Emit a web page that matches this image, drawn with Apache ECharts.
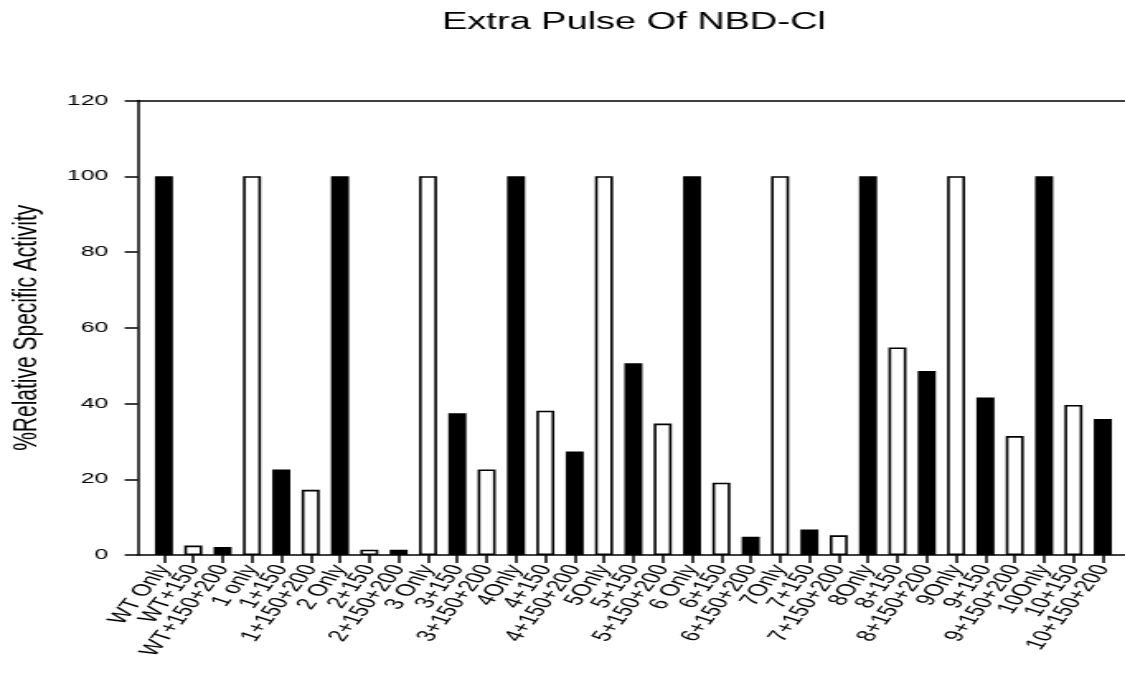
<!DOCTYPE html>
<html>
<head>
<meta charset="utf-8">
<script src="https://cdn.jsdelivr.net/npm/echarts@6/dist/echarts.min.js"></script>
<style>
  html, body { margin: 0; padding: 0; background: #fff; overflow: hidden; }
  /* the chart is laid out narrow and widened horizontally, giving the wide lettering */
  #main { width: 682px; height: 673px; transform: scaleX(1.6496); transform-origin: 0 0; }
</style>
</head>
<body>
<div id="main"></div>
<script>
// Treatment groups along the x axis
const categories = [
  'WT Only', 'WT+150', 'WT+150+200',
  '1 only', '1+150', '1+150+200',
  '2 Only', '2+150', '2+150+200',
  '3 Only', '3+150', '3+150+200',
  '4Only', '4+150', '4+150+200',
  '5Only', '5+150', '5+150+200',
  '6 Only', '6+150', '6+150+200',
  '7Only', '7+150', '7+150+200',
  '8Only', '8+150', '8+150+200',
  '9Only', '9+150', '9+150+200',
  '10Only', '10+150', '10+150+200'
];

// % relative specific activity for each group
const activity = [
  100, 2.5, 2.1,
  100, 22.6, 17.2,
  100, 1.4, 1.4,
  100, 37.4, 22.6,
  100, 38.1, 27.3,
  100, 50.6, 34.7,
  100, 19.1, 4.8,
  100, 6.7, 5.2,
  100, 54.8, 48.6,
  100, 41.6, 31.4,
  100, 39.6, 35.9
];

// y axis range and step
const yMin = 0, yMax = 120, yStep = 20;

const font = "'Liberation Sans', Arial, sans-serif";
const chart = echarts.init(document.getElementById('main'));

chart.setOption({
  animation: false,
  backgroundColor: '#fff',
  title: {
    text: 'Extra Pulse Of NBD-Cl',
    left: 263,
    top: 6,
    textStyle: { fontFamily: font, fontSize: 23, fontWeight: 'normal', color: '#000' }
  },
  grid: [
    { left: 83.6, right: 0, top: 100.5, bottom: 118, outerBoundsMode: 'none', containLabel: false },
    { left: 90.5, right: 4.6, top: 100.5, bottom: 118, outerBoundsMode: 'none', containLabel: false }
  ],
  xAxis: [
    { // bottom frame line
      gridIndex: 0, type: 'value', min: 0, max: 1, position: 'bottom',
      axisLine: { show: true, onZero: false, lineStyle: { color: '#000', width: 1.5 } },
      axisTick: { show: false }, axisLabel: { show: false }, splitLine: { show: false }
    },
    { // top frame line
      gridIndex: 0, type: 'value', min: 0, max: 1, position: 'top',
      axisLine: { show: true, onZero: false, lineStyle: { color: '#000', width: 1.5 } },
      axisTick: { show: false }, axisLabel: { show: false }, splitLine: { show: false }
    },
    { // categories
      gridIndex: 1, type: 'category', data: categories, position: 'bottom',
      axisLine: { show: false, onZero: false },
      axisTick: { show: true, alignWithLabel: true, length: 8, lineStyle: { color: '#000', width: 1.5 } },
      axisLabel: {
        interval: 0, rotate: 63, margin: 11,
        fontFamily: font, fontSize: 16.5, color: '#000'
      },
      splitLine: { show: false }
    }
  ],
  yAxis: [
    {
      gridIndex: 0, type: 'value', min: yMin, max: yMax, interval: yStep,
      name: '%Relative Specific Activity',
      nameLocation: 'middle', nameRotate: 90, nameGap: 57,
      nameTextStyle: { fontFamily: font, fontSize: 21, color: '#000' },
      axisLine: { show: true, lineStyle: { color: '#000', width: 1.5 } },
      axisTick: { show: true, length: 8, lineStyle: { color: '#000', width: 1.5 } },
      axisLabel: { margin: 18, fontFamily: font, fontSize: 15, color: '#000' },
      splitLine: { show: false }
    },
    {
      gridIndex: 1, type: 'value', min: yMin, max: yMax, show: false,
      splitLine: { show: false }
    }
  ],
  series: [{
    type: 'bar',
    xAxisIndex: 2,
    yAxisIndex: 1,
    data: activity,
    barWidth: 10.9,
    itemStyle: {
      color: (p) => (p.dataIndex % 2 === 0 ? '#000' : '#fff'),
      borderColor: '#000',
      borderWidth: 1.6
    }
  }]
});
</script>
</body>
</html>
